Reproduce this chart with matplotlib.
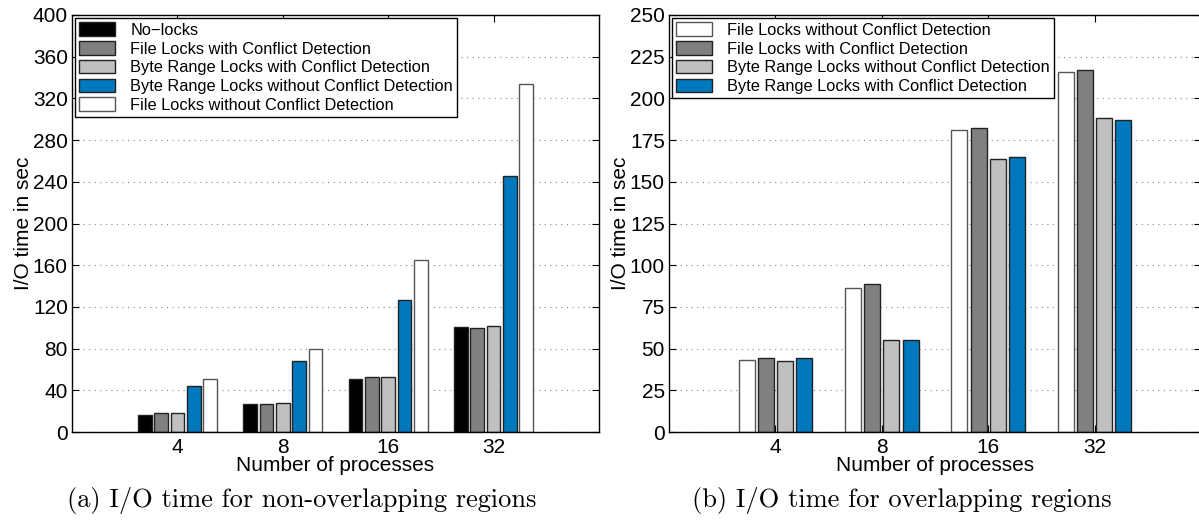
import matplotlib
matplotlib.use("Agg")
import matplotlib.pyplot as plt
import numpy as np

plt.rcParams["font.family"] = ["Liberation Sans", "DejaVu Sans"]

procs = ["4", "8", "16", "32"]

# (a) non-overlapping regions
a_labels = [
    "No\u2212locks",
    "File Locks with Conflict Detection",
    "Byte Range Locks with Conflict Detection",
    "Byte Range Locks without Conflict Detection",
    "File Locks without Conflict Detection",
]
a_no_locks = [16.0, 26.6, 50.9, 101.1]
a_file_cd = [18.2, 26.9, 52.5, 100.2]
a_byte_cd = [18.2, 27.8, 52.8, 102.1]
a_byte_nocd = [43.8, 68.5, 126.7, 245.4]
a_file_nocd = [50.6, 80.0, 165.4, 333.4]

# (b) overlapping regions
b_labels = [
    "File Locks without Conflict Detection",
    "File Locks with Conflict Detection",
    "Byte Range Locks without Conflict Detection",
    "Byte Range Locks with Conflict Detection",
]
b_file_nocd = [43.2, 86.2, 181.0, 215.6]
b_file_cd = [44.4, 88.8, 182.2, 216.8]
b_byte_nocd = [42.8, 55.0, 163.8, 188.0]
b_byte_cd = [44.4, 55.2, 164.6, 186.8]

BLACK = "#000000"
DARK = "#808080"
LIGHT = "#c0c0c0"
BLUE = "#0078be"
WHITE = "#ffffff"


def grouped(ax, series, colors, labels, pitch, width):
    x = np.arange(1, len(procs) + 1)
    n = len(series)
    for i, (vals, col, lab) in enumerate(zip(series, colors, labels)):
        off = (i - (n - 1) / 2) * pitch
        edge = "#555555" if col == WHITE else "#222222"
        ax.bar(x + off, vals, width, color=col, edgecolor=edge, linewidth=1.0,
               label=lab, zorder=2)
    ax.set_xlim(0, 5)
    ax.set_xticks(x)
    ax.set_xticklabels(procs)


def style(ax, ymax, ystep):
    ax.set_ylim(0, ymax)
    ax.set_yticks(np.arange(0, ymax + 1, ystep))
    ax.yaxis.grid(True, linestyle=(0, (1, 4)), color="#888888", linewidth=0.8, zorder=0)
    ax.set_axisbelow(True)
    ax.tick_params(direction="in", top=True, right=True, length=5, width=0.8,
                   labelsize=15, pad=4)
    ax.tick_params(axis="y", pad=3)
    for s in ax.spines.values():
        s.set_linewidth(1.0)
    ax.set_ylabel("I/O time in sec", fontsize=15, labelpad=0)
    ax.set_xlabel("Number of processes", fontsize=15)
    ax.xaxis.set_label_coords(0.5, -0.058)
    leg = ax.legend(loc="upper left", bbox_to_anchor=(0.0, 1.0), fontsize=11.8,
                    frameon=True, fancybox=False, borderaxespad=0.2,
                    handlelength=2.2, handleheight=0.9, labelspacing=0.2,
                    borderpad=0.25, handletextpad=0.9)
    leg.get_frame().set_edgecolor("black")
    leg.get_frame().set_linewidth(1.0)
    leg.get_frame().set_alpha(1.0)


fig = plt.figure(figsize=(11.99, 5.21), dpi=100)

ax1 = fig.add_axes([72 / 1199, 89 / 521, 527 / 1199, 417 / 521])
grouped(ax1, [a_no_locks, a_file_cd, a_byte_cd, a_byte_nocd, a_file_nocd],
        [BLACK, DARK, LIGHT, BLUE, WHITE], a_labels, pitch=0.155, width=0.13)
style(ax1, 400, 40)

ax2 = fig.add_axes([669 / 1199, 89 / 521, 532 / 1199, 417 / 521])
grouped(ax2, [b_file_nocd, b_file_cd, b_byte_nocd, b_byte_cd],
        [WHITE, DARK, LIGHT, BLUE], b_labels, pitch=0.18, width=0.15)
style(ax2, 250, 25)

fig.text(302 / 1199, 1 - 501 / 521, "(a) I/O time for non-overlapping regions",
         family="cmr10", fontsize=19, ha="center", va="center")
fig.text(902 / 1199, 1 - 501 / 521, "(b) I/O time for overlapping regions",
         family="cmr10", fontsize=19, ha="center", va="center")

fig.savefig("out.png", dpi=100)
